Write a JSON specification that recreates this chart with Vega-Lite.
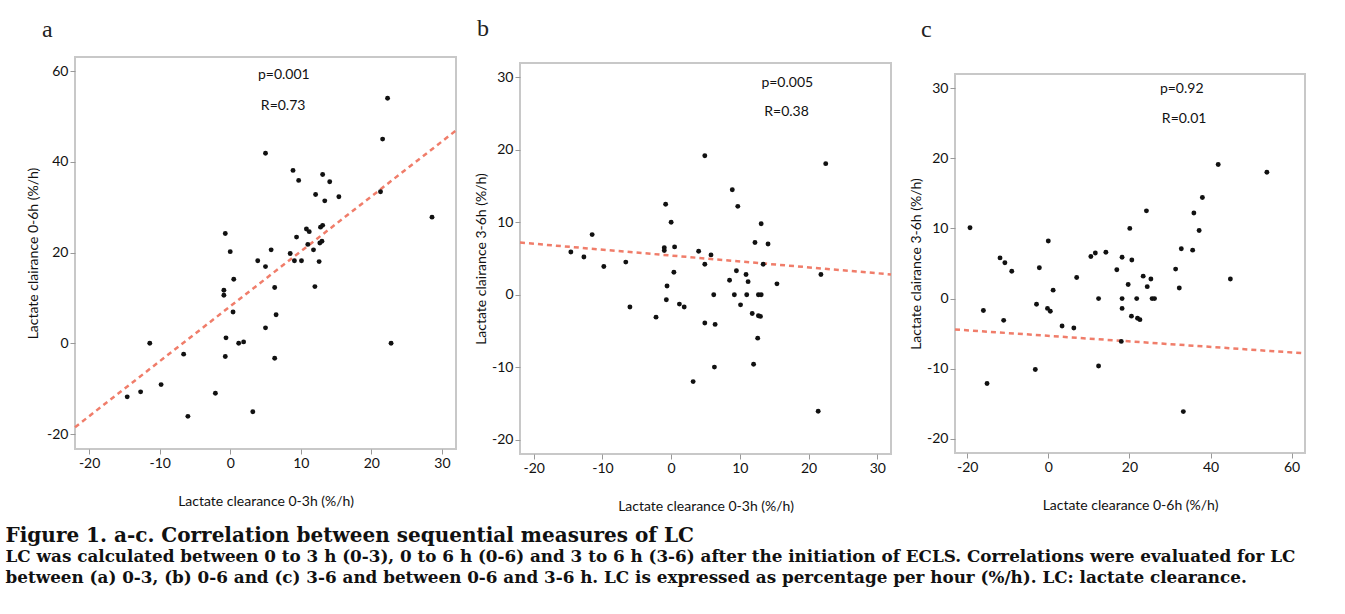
{
  "$schema": "https://vega.github.io/schema/vega-lite/v6.json",
  "padding": {"left": 5, "top": 17, "right": 5, "bottom": 5},
  "background": "white",
  "config": {
    "font": "Lato",
    "view": {"stroke": "#c8c8c8", "strokeWidth": 2},
    "axis": {
      "domain": false, "grid": false,
      "labelFont": "Lato", "labelFontSize": 14, "labelColor": "#111", "labelPadding": 2,
      "tickColor": "#999", "tickSize": 5, "tickWidth": 1,
      "titleFont": "Lato", "titleFontSize": 14, "titleFontWeight": "normal", "titleColor": "#111"
    },
    "axisY": {"titlePadding": 3},
    "axisX": {"titlePadding": 24}
  },
  "datasets": {
    "points": [
      {"p":"a","x":22.3,"y":54.0},{"p":"a","x":21.6,"y":45.0},{"p":"a","x":5.0,"y":41.9},{"p":"a","x":8.9,"y":38.1},{"p":"a","x":9.7,"y":35.9},{"p":"a","x":13.1,"y":37.2},{"p":"a","x":14.1,"y":35.6},{"p":"a","x":12.1,"y":32.8},{"p":"a","x":13.4,"y":31.4},{"p":"a","x":15.4,"y":32.3},{"p":"a","x":21.3,"y":33.4},{"p":"a","x":28.6,"y":27.8},{"p":"a","x":13.1,"y":26.0},{"p":"a","x":12.8,"y":25.6},{"p":"a","x":10.8,"y":25.2},{"p":"a","x":11.2,"y":24.6},{"p":"a","x":9.4,"y":23.4},{"p":"a","x":11.0,"y":21.8},{"p":"a","x":13.0,"y":22.5},{"p":"a","x":12.7,"y":22.1},{"p":"a","x":11.8,"y":20.6},{"p":"a","x":5.8,"y":20.6},{"p":"a","x":8.5,"y":19.8},{"p":"a","x":9.1,"y":18.2},{"p":"a","x":10.1,"y":18.2},{"p":"a","x":12.6,"y":18.0},{"p":"a","x":3.9,"y":18.2},{"p":"a","x":5.0,"y":16.9},{"p":"a","x":12.0,"y":12.5},{"p":"a","x":6.3,"y":12.3},{"p":"a","x":6.5,"y":6.3},{"p":"a","x":5.0,"y":3.4},{"p":"a","x":6.3,"y":-3.3},{"p":"a","x":-0.7,"y":24.2},{"p":"a","x":0.0,"y":20.2},{"p":"a","x":0.5,"y":14.1},{"p":"a","x":-0.9,"y":11.7},{"p":"a","x":-0.9,"y":10.6},{"p":"a","x":0.4,"y":6.9},{"p":"a","x":-0.6,"y":1.2},{"p":"a","x":-0.7,"y":-2.9},{"p":"a","x":1.2,"y":0.0},{"p":"a","x":1.9,"y":0.3},{"p":"a","x":22.8,"y":0.0},{"p":"a","x":-11.4,"y":0.0},{"p":"a","x":-6.6,"y":-2.4},{"p":"a","x":-9.8,"y":-9.1},{"p":"a","x":-12.7,"y":-10.7},{"p":"a","x":-14.6,"y":-11.8},{"p":"a","x":-6.0,"y":-16.1},{"p":"a","x":-2.1,"y":-11.0},{"p":"a","x":3.2,"y":-15.1},
      {"p":"b","x":4.9,"y":19.2},{"p":"b","x":22.5,"y":18.1},{"p":"b","x":8.9,"y":14.5},{"p":"b","x":9.7,"y":12.2},{"p":"b","x":-0.8,"y":12.5},{"p":"b","x":0.0,"y":10.0},{"p":"b","x":13.1,"y":9.8},{"p":"b","x":-11.5,"y":8.3},{"p":"b","x":12.2,"y":7.2},{"p":"b","x":14.1,"y":7.0},{"p":"b","x":0.5,"y":6.6},{"p":"b","x":-1.0,"y":6.5},{"p":"b","x":-1.0,"y":6.1},{"p":"b","x":-14.6,"y":5.9},{"p":"b","x":4.0,"y":6.0},{"p":"b","x":-12.7,"y":5.2},{"p":"b","x":5.8,"y":5.5},{"p":"b","x":-6.6,"y":4.5},{"p":"b","x":-9.8,"y":3.9},{"p":"b","x":4.9,"y":4.2},{"p":"b","x":13.4,"y":4.2},{"p":"b","x":0.4,"y":3.1},{"p":"b","x":9.5,"y":3.3},{"p":"b","x":10.9,"y":2.8},{"p":"b","x":21.8,"y":2.8},{"p":"b","x":8.5,"y":2.0},{"p":"b","x":11.2,"y":1.8},{"p":"b","x":15.4,"y":1.5},{"p":"b","x":-0.6,"y":1.2},{"p":"b","x":6.2,"y":0.0},{"p":"b","x":9.2,"y":0.0},{"p":"b","x":11.0,"y":0.0},{"p":"b","x":12.7,"y":0.0},{"p":"b","x":13.1,"y":0.0},{"p":"b","x":-0.7,"y":-0.7},{"p":"b","x":-6.0,"y":-1.7},{"p":"b","x":1.2,"y":-1.3},{"p":"b","x":1.9,"y":-1.7},{"p":"b","x":10.1,"y":-1.4},{"p":"b","x":11.8,"y":-2.6},{"p":"b","x":12.7,"y":-2.9},{"p":"b","x":13.0,"y":-3.0},{"p":"b","x":-2.2,"y":-3.1},{"p":"b","x":4.9,"y":-3.9},{"p":"b","x":6.4,"y":-4.1},{"p":"b","x":12.6,"y":-6.0},{"p":"b","x":12.0,"y":-9.6},{"p":"b","x":6.3,"y":-10.0},{"p":"b","x":3.2,"y":-12.0},{"p":"b","x":21.4,"y":-16.1},
      {"p":"c","x":41.9,"y":19.1},{"p":"c","x":53.9,"y":18.0},{"p":"c","x":38.0,"y":14.4},{"p":"c","x":24.2,"y":12.5},{"p":"c","x":35.9,"y":12.2},{"p":"c","x":-19.3,"y":10.1},{"p":"c","x":20.1,"y":10.0},{"p":"c","x":37.2,"y":9.7},{"p":"c","x":0.0,"y":8.2},{"p":"c","x":32.8,"y":7.1},{"p":"c","x":35.6,"y":6.9},{"p":"c","x":14.2,"y":6.6},{"p":"c","x":11.6,"y":6.5},{"p":"c","x":10.5,"y":6.0},{"p":"c","x":-11.9,"y":5.8},{"p":"c","x":18.2,"y":5.9},{"p":"c","x":-10.7,"y":5.1},{"p":"c","x":20.6,"y":5.5},{"p":"c","x":-9.0,"y":3.9},{"p":"c","x":-2.2,"y":4.4},{"p":"c","x":16.9,"y":4.1},{"p":"c","x":31.4,"y":4.2},{"p":"c","x":7.0,"y":3.0},{"p":"c","x":23.4,"y":3.2},{"p":"c","x":25.3,"y":2.8},{"p":"c","x":44.9,"y":2.8},{"p":"c","x":19.7,"y":2.0},{"p":"c","x":24.4,"y":1.7},{"p":"c","x":32.3,"y":1.5},{"p":"c","x":1.2,"y":1.2},{"p":"c","x":12.4,"y":0.0},{"p":"c","x":18.2,"y":0.0},{"p":"c","x":21.8,"y":0.0},{"p":"c","x":25.6,"y":0.0},{"p":"c","x":26.2,"y":0.0},{"p":"c","x":-2.9,"y":-0.8},{"p":"c","x":-0.2,"y":-1.4},{"p":"c","x":0.5,"y":-1.8},{"p":"c","x":-16.0,"y":-1.7},{"p":"c","x":18.2,"y":-1.4},{"p":"c","x":20.5,"y":-2.5},{"p":"c","x":22.0,"y":-2.8},{"p":"c","x":22.6,"y":-3.0},{"p":"c","x":-11.0,"y":-3.1},{"p":"c","x":3.4,"y":-3.9},{"p":"c","x":6.3,"y":-4.2},{"p":"c","x":18.0,"y":-6.1},{"p":"c","x":-3.2,"y":-10.1},{"p":"c","x":12.4,"y":-9.6},{"p":"c","x":-15.1,"y":-12.1},{"p":"c","x":33.3,"y":-16.1}
    ],
    "lines": [
      {"p":"a","x":-22,"y":-18.5},{"p":"a","x":32,"y":46.9},
      {"p":"b","x":-22,"y":7.2},{"p":"b","x":32,"y":2.8},
      {"p":"c","x":-23,"y":-4.4},{"p":"c","x":63.3,"y":-7.8}
    ],
    "notes": [
      {"p":"a","x":7.6,"y":59.1,"t":"p=0.001"},{"p":"a","x":7.5,"y":52.2,"t":"R=0.73"},
      {"p":"b","x":16.9,"y":29.3,"t":"p=0.005"},{"p":"b","x":16.8,"y":25.2,"t":"R=0.38"},
      {"p":"c","x":32.9,"y":29.8,"t":"p=0.92"},{"p":"c","x":33.5,"y":25.6,"t":"R=0.01"}
    ]
  },
  "title": {
    "text": "Figure 1. a-c. Correlation between sequential measures of LC",
    "subtitle": [
      "LC was calculated between 0 to 3 h (0-3), 0 to 6 h (0-6) and 3 to 6 h (3-6) after the initiation of ECLS. Correlations were evaluated for LC",
      "between (a) 0-3, (b) 0-6 and (c) 3-6 and between 0-6 and 3-6 h. LC is expressed as percentage per hour (%/h). LC: lactate clearance."
    ],
    "orient": "bottom", "anchor": "start", "frame": "bounds", "dx": -20, "offset": 12,
    "font": "DejaVu Serif", "fontSize": 20, "fontWeight": "bold", "color": "#111",
    "subtitleFont": "DejaVu Serif", "subtitleFontSize": 16.8, "subtitleFontWeight": "bold", "subtitleColor": "#111",
    "subtitleLineHeight": 21, "subtitlePadding": 3
  },
  "spacing": 11,
  "hconcat": [
    {
      "width": 381, "height": 392,
      "title": {"text": "a", "anchor": "start", "frame": "group", "dx": -33, "offset": 15, "font": "Liberation Serif", "fontSize": 24, "fontWeight": "normal", "color": "#222"},
      "layer": [
        {"mark": {"type": "rule", "color": "#a0a0a0", "strokeWidth": 2},
         "encoding": {"x": {"datum": 0, "type": "quantitative", "scale": {"domain": [-22, 32], "nice": false, "zero": false}, "axis": {"values": [-20,-10,0,10,20,30], "labelExpr": "toString(datum.value)", "title": "Lactate clearance 0-3h (%/h)"}}}},
        {"mark": {"type": "rule", "color": "#a0a0a0", "strokeWidth": 2},
         "encoding": {"y": {"datum": 0, "type": "quantitative", "scale": {"domain": [-23.3, 63.1], "nice": false, "zero": false}, "axis": {"values": [-20,0,20,40,60], "labelExpr": "toString(datum.value)", "title": "Lactate clairance 0-6h (%/h)", "titlePadding": 6}}}},
        {"data": {"name": "lines"}, "transform": [{"filter": "datum.p == 'a'"}],
         "mark": {"type": "line", "color": "#f07d6a", "strokeDash": [5, 4], "strokeWidth": 2.5},
         "encoding": {
           "x": {"field": "x", "type": "quantitative", "scale": {"domain": [-22, 32], "nice": false, "zero": false}, "axis": {"values": [-20,-10,0,10,20,30], "labelExpr": "toString(datum.value)", "title": "Lactate clearance 0-3h (%/h)"}},
           "y": {"field": "y", "type": "quantitative", "scale": {"domain": [-23.3, 63.1], "nice": false, "zero": false}, "axis": {"values": [-20,0,20,40,60], "labelExpr": "toString(datum.value)", "title": "Lactate clairance 0-6h (%/h)", "titlePadding": 6}}}},
        {"data": {"name": "points"}, "transform": [{"filter": "datum.p == 'a'"}],
         "mark": {"type": "circle", "size": 24, "color": "#111", "opacity": 1},
         "encoding": {
           "x": {"field": "x", "type": "quantitative", "scale": {"domain": [-22, 32], "nice": false, "zero": false}, "axis": {"values": [-20,-10,0,10,20,30], "labelExpr": "toString(datum.value)", "title": "Lactate clearance 0-3h (%/h)"}},
           "y": {"field": "y", "type": "quantitative", "scale": {"domain": [-23.3, 63.1], "nice": false, "zero": false}, "axis": {"values": [-20,0,20,40,60], "labelExpr": "toString(datum.value)", "title": "Lactate clairance 0-6h (%/h)", "titlePadding": 6}}}},
        {"data": {"name": "notes"}, "transform": [{"filter": "datum.p == 'a'"}],
         "mark": {"type": "text", "font": "Lato", "fontSize": 14, "color": "#111", "baseline": "middle", "align": "center"},
         "encoding": {
           "x": {"field": "x", "type": "quantitative", "scale": {"domain": [-22, 32], "nice": false, "zero": false}, "axis": {"values": [-20,-10,0,10,20,30], "labelExpr": "toString(datum.value)", "title": "Lactate clearance 0-3h (%/h)"}},
           "y": {"field": "y", "type": "quantitative", "scale": {"domain": [-23.3, 63.1], "nice": false, "zero": false}, "axis": {"values": [-20,0,20,40,60], "labelExpr": "toString(datum.value)", "title": "Lactate clairance 0-6h (%/h)", "titlePadding": 6}},
           "text": {"field": "t"}}}
      ]
    },
    {
      "spacing": 11,
      "hconcat": [
        {
          "spacing": 0,
          "vconcat": [
            {"data": {"values": [{}]}, "mark": {"type": "point", "opacity": 0}, "width": 371, "height": 4, "view": {"stroke": null},
             "title": {"text": "b", "anchor": "start", "frame": "group", "dx": -43, "offset": 15, "font": "Liberation Serif", "fontSize": 24, "fontWeight": "normal", "color": "#222"}},
            {
              "width": 371, "height": 391,
              "layer": [
                {"mark": {"type": "rule", "color": "#888888", "strokeWidth": 2},
                 "encoding": {"x": {"datum": 0, "type": "quantitative", "scale": {"domain": [-22, 32], "nice": false, "zero": false}, "axis": {"values": [-20,-10,0,10,20,30], "labelExpr": "toString(datum.value)", "title": "Lactate clearance 0-3h (%/h)"}}}},
                {"mark": {"type": "rule", "color": "#b4b4b4", "strokeWidth": 2},
                 "encoding": {"y": {"datum": 0, "type": "quantitative", "scale": {"domain": [-22, 32], "nice": false, "zero": false}, "axis": {"values": [-20,-10,0,10,20,30], "labelExpr": "toString(datum.value)", "title": "Lactate clairance 3-6h (%/h)"}}}},
                {"data": {"name": "lines"}, "transform": [{"filter": "datum.p == 'b'"}],
                 "mark": {"type": "line", "color": "#f07d6a", "strokeDash": [5, 4], "strokeWidth": 2.5},
                 "encoding": {
                   "x": {"field": "x", "type": "quantitative", "scale": {"domain": [-22, 32], "nice": false, "zero": false}, "axis": {"values": [-20,-10,0,10,20,30], "labelExpr": "toString(datum.value)", "title": "Lactate clearance 0-3h (%/h)"}},
                   "y": {"field": "y", "type": "quantitative", "scale": {"domain": [-22, 32], "nice": false, "zero": false}, "axis": {"values": [-20,-10,0,10,20,30], "labelExpr": "toString(datum.value)", "title": "Lactate clairance 3-6h (%/h)"}}}},
                {"data": {"name": "points"}, "transform": [{"filter": "datum.p == 'b'"}],
                 "mark": {"type": "circle", "size": 24, "color": "#111", "opacity": 1},
                 "encoding": {
                   "x": {"field": "x", "type": "quantitative", "scale": {"domain": [-22, 32], "nice": false, "zero": false}, "axis": {"values": [-20,-10,0,10,20,30], "labelExpr": "toString(datum.value)", "title": "Lactate clearance 0-3h (%/h)"}},
                   "y": {"field": "y", "type": "quantitative", "scale": {"domain": [-22, 32], "nice": false, "zero": false}, "axis": {"values": [-20,-10,0,10,20,30], "labelExpr": "toString(datum.value)", "title": "Lactate clairance 3-6h (%/h)"}}}},
                {"data": {"name": "notes"}, "transform": [{"filter": "datum.p == 'b'"}],
                 "mark": {"type": "text", "font": "Lato", "fontSize": 14, "color": "#111", "baseline": "middle", "align": "center"},
                 "encoding": {
                   "x": {"field": "x", "type": "quantitative", "scale": {"domain": [-22, 32], "nice": false, "zero": false}, "axis": {"values": [-20,-10,0,10,20,30], "labelExpr": "toString(datum.value)", "title": "Lactate clearance 0-3h (%/h)"}},
                   "y": {"field": "y", "type": "quantitative", "scale": {"domain": [-22, 32], "nice": false, "zero": false}, "axis": {"values": [-20,-10,0,10,20,30], "labelExpr": "toString(datum.value)", "title": "Lactate clairance 3-6h (%/h)"}},
                   "text": {"field": "t"}}}
              ]
            }
          ]
        },
        {
          "spacing": 0,
          "vconcat": [
            {"data": {"values": [{}]}, "mark": {"type": "point", "opacity": 0}, "width": 350, "height": 16, "view": {"stroke": null},
             "title": {"text": "c", "anchor": "start", "frame": "group", "dx": -34, "offset": 15, "font": "Liberation Serif", "fontSize": 24, "fontWeight": "normal", "color": "#222"}},
            {
              "width": 350, "height": 379,
              "layer": [
                {"mark": {"type": "rule", "color": "#b8b8b8", "strokeWidth": 2},
                 "encoding": {"x": {"datum": 0, "type": "quantitative", "scale": {"domain": [-23, 63.3], "nice": false, "zero": false}, "axis": {"values": [-20,0,20,40,60], "labelExpr": "toString(datum.value)", "title": "Lactate clearance 0-6h (%/h)"}}}},
                {"mark": {"type": "rule", "color": "#b8b8b8", "strokeWidth": 2},
                 "encoding": {"y": {"datum": 0, "type": "quantitative", "scale": {"domain": [-22, 32], "nice": false, "zero": false}, "axis": {"values": [-20,-10,0,10,20,30], "labelExpr": "toString(datum.value)", "title": "Lactate clairance 3-6h (%/h)"}}}},
                {"data": {"name": "lines"}, "transform": [{"filter": "datum.p == 'c'"}],
                 "mark": {"type": "line", "color": "#f07d6a", "strokeDash": [5, 4], "strokeWidth": 2.5},
                 "encoding": {
                   "x": {"field": "x", "type": "quantitative", "scale": {"domain": [-23, 63.3], "nice": false, "zero": false}, "axis": {"values": [-20,0,20,40,60], "labelExpr": "toString(datum.value)", "title": "Lactate clearance 0-6h (%/h)"}},
                   "y": {"field": "y", "type": "quantitative", "scale": {"domain": [-22, 32], "nice": false, "zero": false}, "axis": {"values": [-20,-10,0,10,20,30], "labelExpr": "toString(datum.value)", "title": "Lactate clairance 3-6h (%/h)"}}}},
                {"data": {"name": "points"}, "transform": [{"filter": "datum.p == 'c'"}],
                 "mark": {"type": "circle", "size": 24, "color": "#111", "opacity": 1},
                 "encoding": {
                   "x": {"field": "x", "type": "quantitative", "scale": {"domain": [-23, 63.3], "nice": false, "zero": false}, "axis": {"values": [-20,0,20,40,60], "labelExpr": "toString(datum.value)", "title": "Lactate clearance 0-6h (%/h)"}},
                   "y": {"field": "y", "type": "quantitative", "scale": {"domain": [-22, 32], "nice": false, "zero": false}, "axis": {"values": [-20,-10,0,10,20,30], "labelExpr": "toString(datum.value)", "title": "Lactate clairance 3-6h (%/h)"}}}},
                {"data": {"name": "notes"}, "transform": [{"filter": "datum.p == 'c'"}],
                 "mark": {"type": "text", "font": "Lato", "fontSize": 14, "color": "#111", "baseline": "middle", "align": "center"},
                 "encoding": {
                   "x": {"field": "x", "type": "quantitative", "scale": {"domain": [-23, 63.3], "nice": false, "zero": false}, "axis": {"values": [-20,0,20,40,60], "labelExpr": "toString(datum.value)", "title": "Lactate clearance 0-6h (%/h)"}},
                   "y": {"field": "y", "type": "quantitative", "scale": {"domain": [-22, 32], "nice": false, "zero": false}, "axis": {"values": [-20,-10,0,10,20,30], "labelExpr": "toString(datum.value)", "title": "Lactate clairance 3-6h (%/h)"}},
                   "text": {"field": "t"}}}
              ]
            }
          ]
        }
      ]
    }
  ]
}
